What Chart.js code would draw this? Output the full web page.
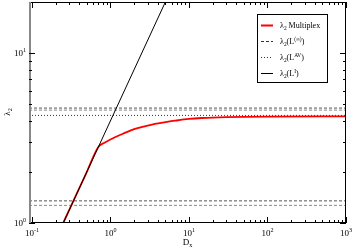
<!DOCTYPE html>
<html>
<head>
<meta charset="utf-8">
<script src="https://cdn.jsdelivr.net/npm/chart.js@4"></script>
<style>
  html, body { margin: 0; background: #fff; }
  #wrap { width: 353px; height: 250px; }
</style>
</head>
<body>
<div id="wrap"><canvas id="grafica"></canvas></div>
<script>
// datos
const dxMultiplex = [0.25, 0.5, 0.7, 0.85, 1.14, 1.5, 2.05, 2.8, 3.69, 5, 6.64, 10, 14.5, 30, 100, 1000];
const lambdaMultiplex = [1, 2, 2.8, 2.98, 3.2, 3.38, 3.58, 3.72, 3.83, 3.92, 4.0, 4.1, 4.15, 4.2, 4.23, 4.24];

const dxIsolated = [0.25, 5];
const lambdaIsolated = [1, 20];

const lambdaInfinito = [4.75, 4.62, 1.35, 1.27];
const lambdaPromedio = [4.3];

const X_MIN = 0.0916, X_MAX = 1000;
const Y_MIN = 1, Y_MAX = 20;

const xTicks = [0.1, 1, 10, 100, 1000];
const xTickExp = ["-1", "0", "1", "2", "3"];
const yTicks = [1, 10];
const yTickExp = ["0", "1"];

const SERIF = "'Liberation Serif', 'DejaVu Serif', serif";

const puntos = (xs, ys) => xs.map((x, i) => ({ x: x, y: ys[i] }));
const horizontal = (y) => [{ x: X_MIN, y: y }, { x: X_MAX, y: y }];

const datasets = [
  { label: "iso", data: puntos(dxIsolated, lambdaIsolated), borderColor: "#000", borderWidth: 1, order: 0 },
  { label: "multi", data: puntos(dxMultiplex, lambdaMultiplex), borderColor: "#ff0000", borderWidth: 1.8, cubicInterpolationMode: "monotone", order: 1 },
];
lambdaInfinito.forEach((v, i) => {
  datasets.push({ label: "inf" + i, data: horizontal(v), borderColor: i % 2 === 0 ? "#555" : "#888", borderWidth: 1, borderDash: [3, 2], order: 2 });
});
lambdaPromedio.forEach((v, i) => {
  datasets.push({ label: "av" + i, data: horizontal(v), borderColor: "#333", borderWidth: 1, borderDash: [1, 2], order: 2 });
});

// texto con subindices / superindices
const textoRico = (ctx, partes, x, y, size) => {
  let cx = x;
  partes.forEach(([t, modo]) => {
    const s = modo === "n" ? size : size * 0.68;
    const dy = modo === "sup" ? -size * 0.42 : modo === "sub" ? size * 0.25 : 0;
    ctx.font = s + "px " + SERIF;
    ctx.fillText(t, cx, y + dy);
    cx += ctx.measureText(t).width;
  });
  return cx - x;
};
const anchoRico = (ctx, partes, size) => {
  let w = 0;
  partes.forEach(([t, modo]) => {
    const s = modo === "n" ? size : size * 0.68;
    ctx.font = s + "px " + SERIF;
    w += ctx.measureText(t).width;
  });
  return w;
};

const leyenda = [
  { partes: [["λ", "n"], ["2", "sub"], [" Multiplex", "n"]], color: "#ff0000", dash: [], ancho: 2 },
  { partes: [["λ", "n"], ["2", "sub"], ["(L", "n"], ["(∞)", "sup"], [")", "n"]], color: "#333", dash: [3, 2], ancho: 1 },
  { partes: [["λ", "n"], ["2", "sub"], ["(L", "n"], ["AV", "sup"], [")", "n"]], color: "#333", dash: [1, 2], ancho: 1 },
  { partes: [["λ", "n"], ["2", "sub"], ["(L", "n"], ["I", "sup"], [")", "n"]], color: "#000", dash: [], ancho: 1 },
];

const ejes = {
  id: "ejes",
  afterDraw(chart) {
    const ctx = chart.ctx;
    const a = chart.chartArea;
    const sx = chart.scales.x, sy = chart.scales.y;
    ctx.save();
    ctx.setLineDash([]);
    ctx.strokeStyle = "#000";
    ctx.lineWidth = 1;
    ctx.strokeRect(a.left + 0.5, a.top + 0.5, a.right - a.left - 1, a.bottom - a.top - 1);
    ctx.strokeStyle = "#888";
    ctx.lineWidth = 2;
    ctx.beginPath(); ctx.moveTo(a.left + 1, a.top); ctx.lineTo(a.left + 1, a.bottom); ctx.stroke();

    ctx.strokeStyle = "#000";
    ctx.lineWidth = 1;
    // x ticks
    for (let d = 0.1; d <= 1000; d *= 10) {
      for (let k = 1; k <= 9; k++) {
        const v = d * k;
        if (v > X_MAX * 1.0001) break;
        const px = Math.round(sx.getPixelForValue(v)) + 0.5;
        const len = k === 1 ? 6 : 3;
        ctx.beginPath();
        ctx.moveTo(px, a.bottom); ctx.lineTo(px, a.bottom - len);
        ctx.moveTo(px, a.top); ctx.lineTo(px, a.top + len);
        ctx.stroke();
      }
    }
    // y ticks
    for (let d = 1; d <= 10; d *= 10) {
      for (let k = 1; k <= 9; k++) {
        const v = d * k;
        if (v >= Y_MAX) break;
        const py = Math.round(sy.getPixelForValue(v)) + 0.5;
        const len = k === 1 ? 6 : 3;
        ctx.beginPath();
        ctx.moveTo(a.left, py); ctx.lineTo(a.left + len, py);
        ctx.moveTo(a.right, py); ctx.lineTo(a.right - len, py);
        ctx.stroke();
      }
    }

    ctx.fillStyle = "#000";
    ctx.textBaseline = "alphabetic";
    xTicks.forEach((v, i) => {
      const partes = [["10", "n"], [xTickExp[i], "sup"]];
      const w = anchoRico(ctx, partes, 9);
      const px = sx.getPixelForValue(v);
      textoRico(ctx, partes, px - w / 2, a.bottom + 13, 9);
    });
    yTicks.forEach((v, i) => {
      const partes = [["10", "n"], [yTickExp[i], "sup"]];
      const w = anchoRico(ctx, partes, 9);
      const py = sy.getPixelForValue(v);
      textoRico(ctx, partes, a.left - 3 - w, py + 3, 9);
    });

    // titulos
    const tx = [["D", "n"], ["x", "sub"]];
    textoRico(ctx, tx, (a.left + a.right) / 2 - anchoRico(ctx, tx, 9) / 2, 245, 9);
    ctx.save();
    ctx.translate(10, 112);
    ctx.rotate(-Math.PI / 2);
    const ty = [["λ", "n"], ["2", "sub"]];
    textoRico(ctx, ty, -anchoRico(ctx, ty, 9) / 2, 0, 9);
    ctx.restore();

    // leyenda
    const bx = 257.5, by = 14.5, bw = 70, bh = 68;
    ctx.fillStyle = "#fff";
    ctx.fillRect(bx, by, bw, bh);
    ctx.strokeStyle = "#000";
    ctx.lineWidth = 1;
    ctx.strokeRect(bx, by, bw, bh);
    leyenda.forEach((e, i) => {
      const yy = 25 + i * 16;
      ctx.strokeStyle = e.color;
      ctx.lineWidth = e.ancho;
      ctx.setLineDash(e.dash);
      ctx.beginPath(); ctx.moveTo(261, yy + 0.5); ctx.lineTo(273, yy + 0.5); ctx.stroke();
      ctx.setLineDash([]);
      ctx.fillStyle = "#000";
      textoRico(ctx, e.partes, 280, yy + 3, 8);
    });
    ctx.restore();
  },
};

new Chart(document.getElementById("grafica"), {
  type: "line",
  data: { datasets: datasets },
  options: {
    responsive: true,
    maintainAspectRatio: false,
    animation: false,
    layout: { padding: { left: 29, right: 7, top: 2, bottom: 27 } },
    elements: { point: { radius: 0 }, line: { tension: 0 } },
    plugins: { legend: { display: false }, tooltip: { enabled: false } },
    scales: {
      x: { type: "logarithmic", min: X_MIN, max: X_MAX, display: false },
      y: { type: "logarithmic", min: Y_MIN, max: Y_MAX, display: false },
    },
  },
  plugins: [ejes],
});
</script>
</body>
</html>
